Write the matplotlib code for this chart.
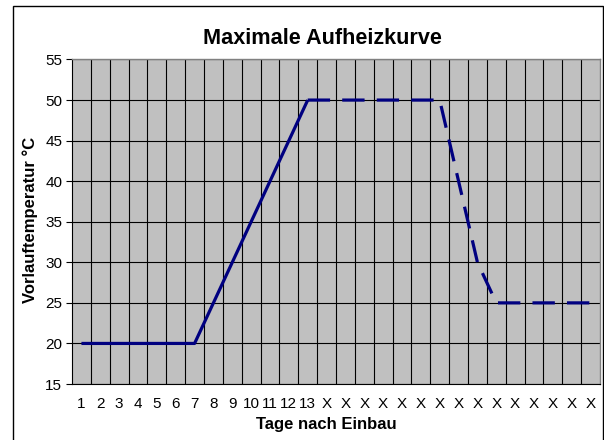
import numpy as np
import matplotlib.pyplot as plt
from matplotlib.patches import Rectangle

plt.rcParams['font.family'] = ['Liberation Sans', 'DejaVu Sans']

# Kategorien (Tage nach Einbau)
tage = [str(i) for i in range(1, 14)] + ['X'] * 15
# Aufheizphase (durchgezogen), Tag 1..13
temp_aufheiz = [20, 20, 20, 20, 20, 20, 20, 25, 30, 35, 40, 45, 50]
# Halte- und Abkuehlphase (gestrichelt), ab Tag 13
temp_rest = [50, 50, 50, 50, 50, 50, 50, 50, 40, 30, 25, 25, 25, 25, 25, 25]

fig = plt.figure(figsize=(6.04, 4.40), dpi=100)
fig.patch.set_facecolor('white')

# Rahmen des Diagrammbereichs
fig.add_artist(Rectangle((13 / 604, -0.01), 589.5 / 604, 434 / 440 + 0.01,
                         transform=fig.transFigure, fill=False,
                         edgecolor='black', linewidth=1.0))

ax = fig.add_axes([72 / 604, 56 / 440, 528 / 604, 324.5 / 440])
ax.set_facecolor('#C0C0C0')

x = np.arange(len(tage))
ax.plot(x[:13], temp_aufheiz, color='#000080', linewidth=2.3,
        solid_capstyle='butt', zorder=3)
ax.plot(x[12:], temp_rest, color='#000080', linewidth=2.3,
        dashes=(7.0, 3.8), dash_capstyle='butt', zorder=3)

ax.set_xlim(-0.5, len(tage) - 0.5)
ax.set_ylim(15, 55)
ax.set_yticks(np.arange(15, 56, 5))
ax.set_xticks(x)
ax.set_xticklabels(tage)
ax.set_xticks(np.arange(0.5, len(tage) - 0.5, 1), minor=True)

ax.grid(axis='y', which='major', color='black', linewidth=0.8)
ax.grid(axis='x', which='minor', color='black', linewidth=0.8)
ax.set_axisbelow(True)

ax.tick_params(axis='x', which='both', length=0, pad=9, labelsize=11)
ax.tick_params(axis='y', which='major', length=4, width=0.8, pad=3,
               labelsize=11, direction='out')

for s in ['top', 'right']:
    ax.spines[s].set_color('#808080')
    ax.spines[s].set_linewidth(1.0)
ax.spines['left'].set_color('black')
ax.spines['bottom'].set_color('black')
ax.spines['left'].set_linewidth(0.8)
ax.spines['bottom'].set_linewidth(0.8)

fig.text(322 / 604, 1 - 38 / 440, 'Maximale Aufheizkurve', ha='center',
         va='center', fontsize=15.6, fontweight='bold')
fig.text(30 / 604, 1 - 220 / 440, 'Vorlauftemperatur °C', ha='center',
         va='center', rotation=90, fontsize=12, fontweight='bold')
fig.text(326 / 604, 1 - 424 / 440, 'Tage nach Einbau', ha='center',
         va='center', fontsize=12, fontweight='bold')

fig.savefig('out.png', dpi=100)
